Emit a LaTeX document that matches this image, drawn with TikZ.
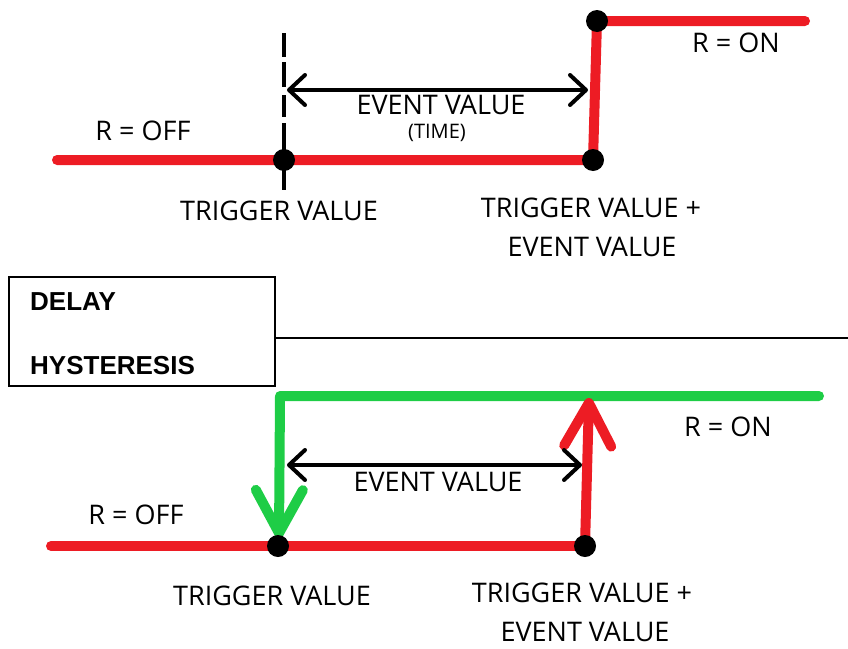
\documentclass[tikz,border=0pt]{standalone}
\usepackage{fontspec}
\setmainfont{Open Sans}
\newfontfamily\boxfont{Liberation Sans}
\usetikzlibrary{arrows.meta}
\definecolor{rd}{RGB}{237,28,36}
\definecolor{gn}{RGB}{30,205,70}
\begin{document}
\begin{tikzpicture}[x=1pt,y=-1pt,
  lbl/.style={inner sep=0pt, font=\fontsize{27}{27}\selectfont, text height=19.3pt, text depth=0pt},
  small/.style={inner sep=0pt, font=\fontsize{20}{20}\selectfont, text height=14.3pt, text depth=0pt},
  boxlbl/.style={inner sep=0pt, anchor=west, font=\boxfont\bfseries\fontsize{26}{26}\selectfont, text height=18.6pt, text depth=0pt},
  redline/.style={draw=rd, line width=10pt, line cap=round, line join=round},
  greenline/.style={draw=gn, line width=10pt, line cap=round, line join=round},
  dot/.style={circle, fill=black, inner sep=0pt, minimum size=22pt},
  dimarrow/.style={draw=black, line width=4pt, line cap=round,
     {Straight Barb[length=16pt,width=30pt,round]}-{Straight Barb[length=16pt,width=30pt,round]}},
  bigtip/.style={-{Straight Barb[length=43pt,width=47pt,round]}},
  dashedline/.style={draw=black, line width=4pt, dash pattern=on 24pt off 5pt on 25pt off 8pt on 22pt off 6pt on 80pt}
]
\useasboundingbox (0,0) rectangle (848,648);

% ---------- top: delay ----------
\coordinate (a0) at (57,160);
\coordinate (a1) at (284,160);
\coordinate (a2) at (593,160);
\coordinate (a3) at (597,21);
\coordinate (a4) at (805,21);
\coordinate (d0) at (284,33);
\coordinate (d1) at (284,190);
\coordinate (h0) at (287,90);
\coordinate (h1) at (588,90);

\draw[redline] (a0) -- (a2) -- (a3) -- (a4);
\draw[dashedline] (d0) -- (d1);
\draw[dimarrow] (h0) -- (h1);
\node[dot] (p1) at (a1) {};
\node[dot] (p2) at (a2) {};
\node[dot] (p3) at (a3) {};

\node[lbl] (offA) at (143,131) {R = OFF};
\node[lbl] (onA) at (736,43) {R = ON};
\node[lbl] (evA) at (441,105) {EVENT VALUE};
\node[small] (timeA) at (437,131) {(TIME)};
\node[lbl] (trA) at (279,211) {TRIGGER VALUE};
\node[lbl] (tr2A) at (591,208) {TRIGGER VALUE +};
\node[lbl] (ev2A) at (592,247) {EVENT VALUE};

% ---------- box ----------
\node[draw=black, line width=1.5pt, minimum width=266pt, minimum height=109pt, inner sep=0pt, anchor=north west] (box) at (8,276) {};
\node[boxlbl] (delay) at (30,301) {DELAY};
\node[boxlbl] (hyst) at (30,365) {HYSTERESIS};
\coordinate (le) at (848,338);
\draw[line width=1.5pt] (box.east |- le) -- (le);

% ---------- bottom: hysteresis ----------
\coordinate (b0) at (51,546);
\coordinate (b1) at (278,546);
\coordinate (b2) at (585,546);
\coordinate (b3) at (589,398);
\coordinate (g0) at (819,396);
\coordinate (g1) at (280,396);
\coordinate (g2) at (279,538);
\coordinate (k0) at (287,465);
\coordinate (k1) at (582,465);

\draw[redline] (b0) -- (b2);
\draw[greenline, bigtip] (g0) -- (g1) -- (g2);
\draw[redline, bigtip] (b2) -- (b3);
\draw[dimarrow] (k0) -- (k1);
\node[dot] (q1) at (b1) {};
\node[dot] (q2) at (b2) {};

\node[lbl] (offB) at (136,515) {R = OFF};
\node[lbl] (onB) at (728,427) {R = ON};
\node[lbl] (evB) at (438,482) {EVENT VALUE};
\node[lbl] (trB) at (272,596) {TRIGGER VALUE};
\node[lbl] (tr2B) at (582,593) {TRIGGER VALUE +};
\node[lbl] (ev2B) at (585,632) {EVENT VALUE};
\end{tikzpicture}
\end{document}
